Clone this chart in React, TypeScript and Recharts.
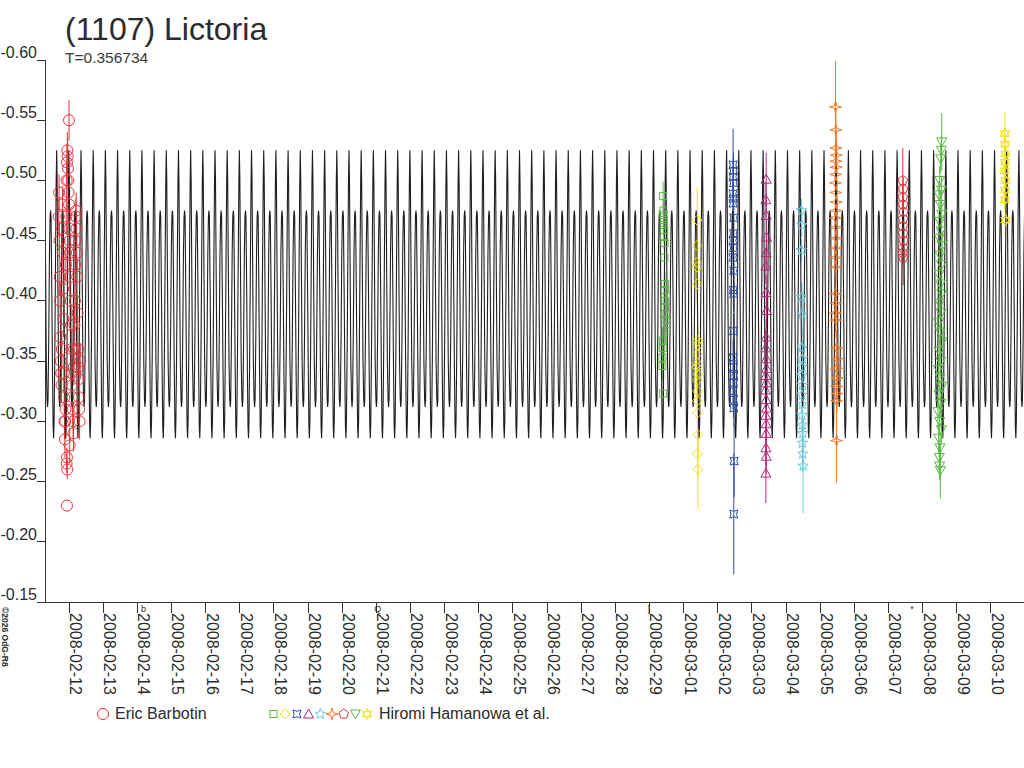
import React from 'react';
import {
  ComposedChart,
  Line,
  Scatter,
  XAxis,
  YAxis,
  ErrorBar,
  ReferenceDot,
} from 'recharts';

// ---- chart texts ----
const titleText = '(1107) Lictoria';
const subtitleText = 'T=0.356734';
const copyrightText = '©2026 OdG-R8';
const observer1 = 'Eric Barbotin';
const observer2 = 'Hiromi Hamanowa et al.';

// ---- axes ----
const dateLabels = [
  '2008-02-12', '2008-02-13', '2008-02-14', '2008-02-15', '2008-02-16', '2008-02-17',
  '2008-02-18', '2008-02-19', '2008-02-20', '2008-02-21', '2008-02-22', '2008-02-23',
  '2008-02-24', '2008-02-25', '2008-02-26', '2008-02-27', '2008-02-28', '2008-02-29',
  '2008-03-01', '2008-03-02', '2008-03-03', '2008-03-04', '2008-03-05', '2008-03-06',
  '2008-03-07', '2008-03-08', '2008-03-09', '2008-03-10',
];
const xTicks = dateLabels.map((_, i) => i);
const yTicks = [-0.6, -0.55, -0.5, -0.45, -0.4, -0.35, -0.3, -0.25, -0.2, -0.15];
const X_MIN = -0.703;
const X_MAX = 27.97;

// moon phase glyphs on the time axis (day, glyph)
const moonGlyphs: [number, string][] = [
  [2.17, 'b'],
  [9.0, 'Q'],
  [17.0, ']'],
  [24.7, '*'],
];

// ---- model lightcurve: one period, repeated with period T ----
const PERIOD = 0.356734;
const EPOCH = 0.263;
const cyclePhase = [0, 0.04, 0.1, 0.16, 0.21, 0.25, 0.29, 0.34, 0.4, 0.46, 0.5, 0.54, 0.6, 0.66, 0.71, 0.75, 0.79, 0.85, 0.91, 0.96];
const cycleMag = [-0.286, -0.3, -0.36, -0.44, -0.5, -0.525, -0.5, -0.43, -0.35, -0.318, -0.312, -0.318, -0.37, -0.44, -0.47, -0.475, -0.47, -0.41, -0.34, -0.295];

// ---- observations [day since 2008-02-12, mag, error] ----
const barbotin: [number, number, number][] = [
  [-0.3, -0.47, 0.015], [-0.29, -0.49, 0.015], [-0.28, -0.45, 0.015], [-0.27, -0.42, 0.015], [-0.26, -0.4, 0.015],
  [-0.25, -0.37, 0.015], [-0.24, -0.35, 0.015], [-0.23, -0.34, 0.015], [-0.22, -0.33, 0.015], [-0.21, -0.36, 0.015],
  [-0.2, -0.46, 0.015], [-0.19, -0.48, 0.015], [-0.18, -0.44, 0.015], [-0.17, -0.41, 0.015], [-0.16, -0.385, 0.015],
  [-0.15, -0.34, 0.015], [-0.14, -0.32, 0.015], [-0.13, -0.3, 0.015], [-0.12, -0.285, 0.015], [-0.11, -0.3, 0.015],
  [-0.1, -0.31, 0.015], [-0.09, -0.43, 0.015], [-0.08, -0.47, 0.015], [-0.07, -0.5, 0.015], [-0.06, -0.515, 0.015],
  [-0.05, -0.525, 0.015], [-0.04, -0.52, 0.015], [-0.03, -0.51, 0.015], [-0.02, -0.5, 0.015], [-0.01, -0.49, 0.015],
  [0.0, -0.55, 0.017], [0.0, -0.48, 0.015], [0.01, -0.46, 0.015], [0.02, -0.45, 0.015], [0.03, -0.44, 0.015],
  [0.04, -0.42, 0.015], [0.05, -0.4, 0.015], [0.06, -0.38, 0.015], [0.07, -0.36, 0.015], [0.08, -0.34, 0.015],
  [0.09, -0.33, 0.015], [0.1, -0.32, 0.015], [0.11, -0.31, 0.015], [0.12, -0.3, 0.015], [0.13, -0.29, 0.015],
  [0.14, -0.345, 0.015], [0.15, -0.36, 0.015], [0.16, -0.38, 0.015], [0.17, -0.4, 0.015], [0.18, -0.43, 0.015],
  [0.19, -0.45, 0.015], [0.2, -0.47, 0.015], [0.21, -0.475, 0.015], [0.22, -0.46, 0.015], [0.23, -0.44, 0.015],
  [0.24, -0.42, 0.015], [0.25, -0.39, 0.015], [0.26, -0.36, 0.015], [0.27, -0.345, 0.015], [0.28, -0.335, 0.015],
  [0.29, -0.32, 0.015], [0.3, -0.31, 0.015], [0.31, -0.3, 0.015], [0.33, -0.35, 0.015], [-0.06, -0.23, 0.0],
  [-0.07, -0.265, 0.008], [-0.06, -0.27, 0.008], [-0.05, -0.26, 0.008], [0.02, -0.28, 0.015],
];
const hamanowaSquares: [number, number, number][] = [
  [17.4, -0.487, 0.012], [17.41, -0.475, 0.01], [17.41, -0.471, 0.01], [17.42, -0.467, 0.01], [17.42, -0.463, 0.01],
  [17.43, -0.459, 0.01], [17.43, -0.453, 0.01], [17.44, -0.448, 0.01], [17.44, -0.436, 0.01], [17.45, -0.414, 0.01],
  [17.45, -0.409, 0.01], [17.46, -0.4, 0.01], [17.46, -0.395, 0.01], [17.47, -0.389, 0.01], [17.47, -0.384, 0.01],
  [17.48, -0.375, 0.012], [17.39, -0.367, 0.012], [17.39, -0.361, 0.012], [17.38, -0.353, 0.012], [17.38, -0.346, 0.012],
  [17.4, -0.323, 0.022],
];
const hamanowaDiamonds: [number, number, number][] = [
  [18.4, -0.467, 0.027], [18.39, -0.446, 0.015], [18.38, -0.432, 0.015], [18.39, -0.428, 0.015], [18.4, -0.414, 0.015],
  [18.41, -0.367, 0.015], [18.42, -0.363, 0.015], [18.4, -0.356, 0.015], [18.41, -0.348, 0.015], [18.39, -0.345, 0.015],
  [18.42, -0.339, 0.015], [18.4, -0.334, 0.015], [18.41, -0.325, 0.015], [18.4, -0.317, 0.015], [18.41, -0.307, 0.015],
  [18.42, -0.289, 0.02], [18.41, -0.273, 0.02], [18.42, -0.26, 0.033],
];
const hamanowaCrosses: [number, number, number][] = [
  [19.45, -0.513, 0.03], [19.46, -0.508, 0.015], [19.45, -0.503, 0.015], [19.46, -0.498, 0.015], [19.45, -0.489, 0.015],
  [19.46, -0.485, 0.015], [19.45, -0.481, 0.015], [19.47, -0.469, 0.015], [19.46, -0.456, 0.015], [19.45, -0.45, 0.015],
  [19.46, -0.444, 0.015], [19.45, -0.436, 0.015], [19.47, -0.425, 0.015], [19.46, -0.409, 0.015], [19.47, -0.406, 0.015],
  [19.46, -0.375, 0.015], [19.45, -0.353, 0.015], [19.46, -0.345, 0.015], [19.47, -0.338, 0.015], [19.46, -0.332, 0.015],
  [19.45, -0.325, 0.015], [19.46, -0.318, 0.015], [19.47, -0.311, 0.015], [19.48, -0.267, 0.03], [19.47, -0.223, 0.05],
];
const hamanowaTriangles: [number, number, number][] = [
  [20.42, -0.501, 0.022], [20.41, -0.484, 0.015], [20.42, -0.471, 0.015], [20.43, -0.453, 0.015], [20.42, -0.44, 0.015],
  [20.41, -0.429, 0.015], [20.42, -0.407, 0.015], [20.43, -0.392, 0.015], [20.42, -0.37, 0.015], [20.41, -0.361, 0.015],
  [20.42, -0.352, 0.015], [20.43, -0.344, 0.015], [20.41, -0.338, 0.015], [20.42, -0.332, 0.015], [20.4, -0.326, 0.015],
  [20.42, -0.318, 0.015], [20.43, -0.311, 0.015], [20.41, -0.305, 0.015], [20.42, -0.298, 0.015], [20.42, -0.29, 0.015],
  [20.41, -0.278, 0.015], [20.42, -0.271, 0.015], [20.41, -0.257, 0.025],
];
const hamanowaStars: [number, number, number][] = [
  [21.45, -0.475, 0.01], [21.46, -0.463, 0.01], [21.45, -0.442, 0.01], [21.46, -0.403, 0.012], [21.47, -0.389, 0.02],
  [21.47, -0.361, 0.015], [21.48, -0.352, 0.015], [21.47, -0.345, 0.015], [21.46, -0.338, 0.015], [21.48, -0.33, 0.015],
  [21.47, -0.322, 0.015], [21.48, -0.314, 0.015], [21.47, -0.305, 0.015], [21.48, -0.297, 0.015], [21.49, -0.29, 0.015],
  [21.48, -0.282, 0.015], [21.49, -0.273, 0.015], [21.5, -0.263, 0.039],
];
const hamanowaSparkles: [number, number, number][] = [
  [22.45, -0.561, 0.038], [22.46, -0.542, 0.015], [22.46, -0.527, 0.015], [22.47, -0.521, 0.015], [22.46, -0.516, 0.015],
  [22.47, -0.511, 0.015], [22.46, -0.505, 0.015], [22.45, -0.498, 0.015], [22.46, -0.49, 0.015], [22.47, -0.482, 0.015],
  [22.46, -0.475, 0.015], [22.45, -0.469, 0.015], [22.46, -0.461, 0.015], [22.47, -0.452, 0.015], [22.46, -0.444, 0.015],
  [22.45, -0.436, 0.015], [22.46, -0.428, 0.015], [22.45, -0.406, 0.015], [22.46, -0.398, 0.015], [22.45, -0.39, 0.015],
  [22.46, -0.384, 0.015], [22.48, -0.361, 0.015], [22.49, -0.352, 0.015], [22.48, -0.344, 0.015], [22.49, -0.336, 0.015],
  [22.48, -0.329, 0.015], [22.49, -0.323, 0.015], [22.48, -0.317, 0.015], [22.48, -0.284, 0.035],
];
const hamanowaPentagons: [number, number, number][] = [
  [24.42, -0.5, 0.027], [24.43, -0.493, 0.01], [24.42, -0.486, 0.01], [24.43, -0.48, 0.01], [24.44, -0.474, 0.01],
  [24.43, -0.468, 0.01], [24.42, -0.462, 0.01], [24.43, -0.456, 0.01], [24.44, -0.45, 0.01], [24.43, -0.444, 0.01],
  [24.42, -0.44, 0.01], [24.43, -0.436, 0.023],
];
const hamanowaDownTriangles: [number, number, number][] = [
  [25.56, -0.532, 0.024], [25.55, -0.525, 0.012], [25.53, -0.518, 0.012], [25.5, -0.5, 0.012], [25.55, -0.492, 0.012],
  [25.48, -0.488, 0.012], [25.52, -0.48, 0.012], [25.56, -0.472, 0.012], [25.5, -0.466, 0.012], [25.54, -0.458, 0.012],
  [25.49, -0.452, 0.012], [25.57, -0.446, 0.012], [25.51, -0.438, 0.012], [25.55, -0.43, 0.012], [25.48, -0.422, 0.012],
  [25.52, -0.414, 0.012], [25.56, -0.406, 0.012], [25.5, -0.398, 0.012], [25.54, -0.39, 0.012], [25.47, -0.382, 0.012],
  [25.52, -0.374, 0.012], [25.57, -0.366, 0.012], [25.49, -0.358, 0.012], [25.53, -0.35, 0.012], [25.46, -0.343, 0.012],
  [25.51, -0.336, 0.012], [25.56, -0.329, 0.012], [25.48, -0.322, 0.012], [25.53, -0.315, 0.012], [25.45, -0.308, 0.012],
  [25.5, -0.3, 0.012], [25.55, -0.293, 0.012], [25.47, -0.286, 0.012], [25.51, -0.278, 0.012], [25.49, -0.27, 0.012],
  [25.5, -0.263, 0.012], [25.52, -0.259, 0.023],
];
const hamanowaHexagrams: [number, number, number][] = [
  [27.41, -0.539, 0.018], [27.42, -0.53, 0.01], [27.43, -0.522, 0.01], [27.42, -0.515, 0.01], [27.41, -0.508, 0.01],
  [27.43, -0.5, 0.01], [27.42, -0.492, 0.01], [27.41, -0.484, 0.01], [27.43, -0.467, 0.014],
];

// ---- styling ----
const FONT = '"Liberation Sans", Arial, Helvetica, sans-serif';
const TEXT = '#2b2b2b';
const AXIS = '#333333';
const MODEL = '#1f1f1f';
const C_RED = '#e8333a';
const C_GREEN = '#5cb845';
const C_YELLOW = '#f2e414';
const C_BLUE = '#2f4fa0';
const C_MAGENTA = '#b3297a';
const C_CYAN = '#66c8dc';
const C_ORANGE = '#f37a2c';

const toPoints = (arr: [number, number, number][]) => arr.map(([t, m, e]) => ({ t, m, e }));

const buildModel = () => {
  const pts: { t: number; m: number }[] = [];
  const k0 = Math.floor((X_MIN - EPOCH) / PERIOD) - 1;
  const k1 = Math.ceil((X_MAX - EPOCH) / PERIOD) + 1;
  for (let k = k0; k <= k1; k++) {
    for (let i = 0; i < cyclePhase.length; i++) {
      const t = EPOCH + (k + cyclePhase[i]) * PERIOD;
      if (t >= X_MIN - 0.4 && t <= X_MAX + 0.4) pts.push({ t, m: cycleMag[i] });
    }
  }
  return pts;
};
const modelData = buildModel();

// ---- marker shapes (centered at 0,0) ----
type Marker = (color: string) => React.ReactElement;
const starPath = (n: number, ro: number, ri: number, rot: number) => {
  let d = '';
  for (let i = 0; i < 2 * n; i++) {
    const r = i % 2 === 0 ? ro : ri;
    const a = rot + (Math.PI * i) / n;
    d += (i === 0 ? 'M' : 'L') + (r * Math.sin(a)).toFixed(2) + ',' + (-r * Math.cos(a)).toFixed(2);
  }
  return d + 'Z';
};
const polyPath = (n: number, r: number, rot: number) => {
  let d = '';
  for (let i = 0; i < n; i++) {
    const a = rot + (2 * Math.PI * i) / n;
    d += (i === 0 ? 'M' : 'L') + (r * Math.sin(a)).toFixed(2) + ',' + (-r * Math.cos(a)).toFixed(2);
  }
  return d + 'Z';
};
const mCircle: Marker = (c) => <circle r={5.5} fill="none" stroke={c} strokeWidth={1} />;
const mSquare: Marker = (c) => <rect x={-3.5} y={-3.5} width={7} height={7} fill="none" stroke={c} strokeWidth={1} />;
const mDiamond: Marker = (c) => <path d="M0,-5L5,0L0,5L-5,0Z" fill="none" stroke={c} strokeWidth={1} />;
const mCross: Marker = (c) => (
  <path d="M-4,-4Q0,-1.5 4,-4Q1.5,0 4,4Q0,1.5 -4,4Q-1.5,0 -4,-4Z" fill="none" stroke={c} strokeWidth={1} />
);
const mTriangle: Marker = (c) => <path d="M0,-5L5,4L-5,4Z" fill="none" stroke={c} strokeWidth={1} />;
const mStar: Marker = (c) => <path d={starPath(5, 5.5, 2.3, 0)} fill="none" stroke={c} strokeWidth={1} />;
const mSparkle: Marker = (c) => <path d={starPath(4, 6, 1.8, 0)} fill="none" stroke={c} strokeWidth={1} />;
const mPentagon: Marker = (c) => <path d={polyPath(5, 5, 0)} fill="none" stroke={c} strokeWidth={1} />;
const mDownTriangle: Marker = (c) => <path d="M-5,-4L5,-4L0,5Z" fill="none" stroke={c} strokeWidth={1} />;
const mHexagram: Marker = (c) => (
  <g>
    <path d={polyPath(3, 5.5, 0)} fill="none" stroke={c} strokeWidth={1} />
    <path d={polyPath(3, 5.5, Math.PI)} fill="none" stroke={c} strokeWidth={1} />
  </g>
);

const shapeOf = (marker: Marker, color: string) => (props: any) => {
  const { cx, cy } = props;
  if (cx == null || cy == null) return <g />;
  return <g transform={`translate(${cx},${cy})`}>{marker(color)}</g>;
};

const seriesList: { name: string; data: [number, number, number][]; marker: Marker; color: string }[] = [
  { name: observer1, data: barbotin, marker: mCircle, color: C_RED },
  { name: observer2, data: hamanowaSquares, marker: mSquare, color: C_GREEN },
  { name: observer2, data: hamanowaDiamonds, marker: mDiamond, color: C_YELLOW },
  { name: observer2, data: hamanowaCrosses, marker: mCross, color: C_BLUE },
  { name: observer2, data: hamanowaTriangles, marker: mTriangle, color: C_MAGENTA },
  { name: observer2, data: hamanowaStars, marker: mStar, color: C_CYAN },
  { name: observer2, data: hamanowaSparkles, marker: mSparkle, color: C_ORANGE },
  { name: observer2, data: hamanowaPentagons, marker: mPentagon, color: C_RED },
  { name: observer2, data: hamanowaDownTriangles, marker: mDownTriangle, color: C_GREEN },
  { name: observer2, data: hamanowaHexagrams, marker: mHexagram, color: C_YELLOW },
];

const PLOT_TOP = 60;
const PLOT_LEFT = 45;
const XAXIS_H = 166;
const W = 1024;
const H = 768;
const PLOT_BOTTOM = H - XAXIS_H;

const XTick = (props: any) => {
  const { x, payload } = props;
  const bx = x + 1;
  const by = PLOT_BOTTOM + 11;
  return (
    <g>
      <line x1={x} x2={x} y1={PLOT_BOTTOM} y2={PLOT_BOTTOM + 11} stroke={AXIS} strokeWidth={1} shapeRendering="crispEdges" />
      <text
        x={bx}
        y={by}
        transform={`rotate(90, ${bx}, ${by})`}
        fontSize={16}
        fontFamily={FONT}
        fill={TEXT}
        textAnchor="start"
      >
        {dateLabels[payload.value]}
      </text>
    </g>
  );
};

const YTick = (props: any) => {
  const { y, payload } = props;
  return (
    <g>
      <line x1={PLOT_LEFT - 8} x2={PLOT_LEFT} y1={y} y2={y} stroke={AXIS} strokeWidth={1} shapeRendering="crispEdges" />
      <text x={PLOT_LEFT - 8} y={y - 2} fontSize={16} fontFamily={FONT} fill={TEXT} textAnchor="end">
        {Number(payload.value).toFixed(2)}
      </text>
    </g>
  );
};

const legendHiromi = seriesList.slice(1);

export default function App() {
  return (
    <div style={{ position: 'absolute', left: 0, top: 0, width: W, height: H, background: '#fff' }}>
      <ComposedChart
        width={W}
        height={H}
        margin={{ top: PLOT_TOP, right: 0, bottom: 0, left: 0 }}
        style={{ position: 'absolute', left: 0, top: 0 }}
      >
        <XAxis
          dataKey="t"
          type="number"
          domain={[X_MIN, X_MAX]}
          ticks={xTicks}
          interval={0}
          allowDataOverflow
          height={XAXIS_H}
          tickLine={false}
          axisLine={{ stroke: AXIS, shapeRendering: 'crispEdges' }}
          tick={<XTick />}
        />
        <YAxis
          dataKey="m"
          type="number"
          domain={[-0.6, -0.15]}
          reversed
          ticks={yTicks}
          interval={0}
          allowDataOverflow
          width={PLOT_LEFT}
          tickLine={false}
          axisLine={{ stroke: AXIS, shapeRendering: 'crispEdges' }}
          tick={<YTick />}
        />
        {seriesList.map((s, i) => (
          <Scatter
            key={i}
            name={s.name}
            data={toPoints(s.data)}
            dataKey="m"
            shape={shapeOf(s.marker, s.color)}
            isAnimationActive={false}
          >
            <ErrorBar dataKey="e" direction="y" width={0} stroke={s.color} strokeWidth={1} />
          </Scatter>
        ))}
        <Line
          data={modelData}
          dataKey="m"
          type="linear"
          stroke={MODEL}
          strokeWidth={1.1}
          dot={false}
          activeDot={false}
          isAnimationActive={false}
        />
        {moonGlyphs.map(([t, g], i) => (
          <ReferenceDot
            key={'moon' + i}
            x={t}
            y={-0.15}
            r={0}
            ifOverflow="visible"
            shape={(p: any) => (
              <text x={p.cx - 2} y={p.cy + 10} fontSize={9} fontFamily={FONT} fill={TEXT}>
                {g}
              </text>
            )}
          />
        ))}
      </ComposedChart>
      <svg
        width={W}
        height={H}
        style={{ position: 'absolute', left: 0, top: 0, pointerEvents: 'none' }}
      >
        <text x={65} y={40} fontSize={32} fontFamily={FONT} fill={TEXT}>
          {titleText}
        </text>
        <text x={65} y={63} fontSize={15.5} fontFamily={FONT} fill="#3a3a3a">
          {subtitleText}
        </text>
        <text
          x={2}
          y={607}
          transform="rotate(90, 2, 607)"
          fontSize={8.5}
          fontWeight="bold"
          fontFamily={FONT}
          fill={TEXT}
        >
          {copyrightText}
        </text>
        <g transform="translate(103,714)">{mCircle(C_RED)}</g>
        <text x={115} y={719} fontSize={16} fontFamily={FONT} fill={TEXT}>
          {observer1}
        </text>
        {legendHiromi.map((s, i) => (
          <g key={i} transform={`translate(${273.5 + i * 11.7},714)`}>
            {s.marker(s.color)}
          </g>
        ))}
        <text x={379} y={719} fontSize={16} fontFamily={FONT} fill={TEXT}>
          {observer2}
        </text>
      </svg>
    </div>
  );
}
